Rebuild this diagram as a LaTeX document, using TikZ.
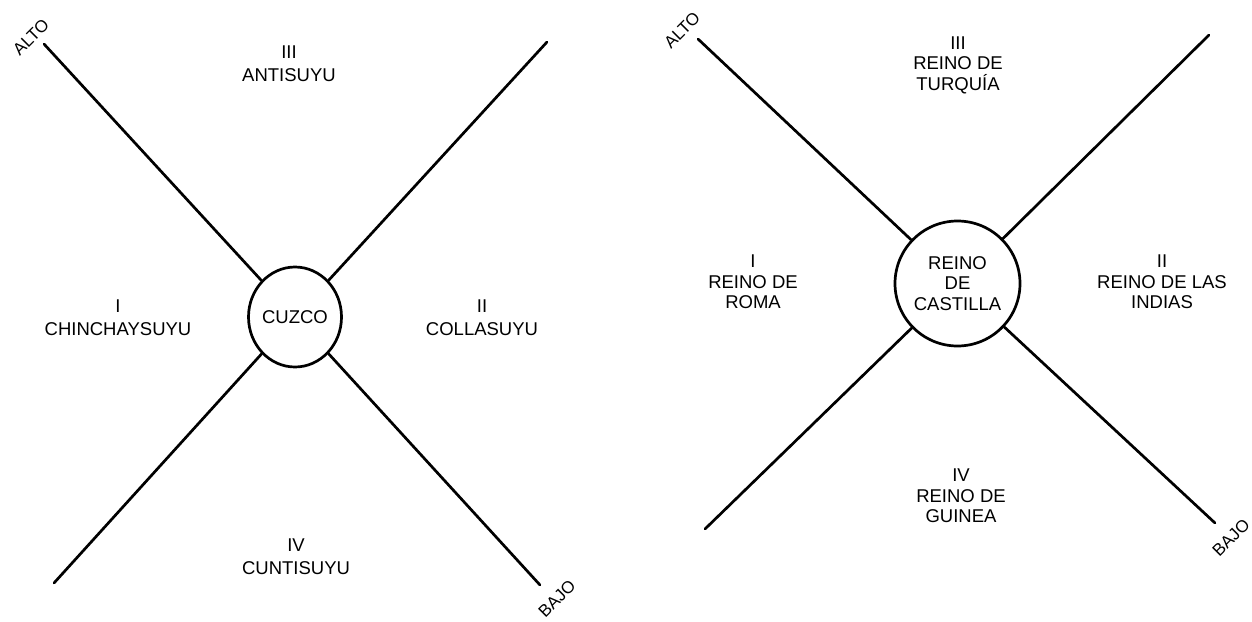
\documentclass[tikz,border=0pt]{standalone}
\usepackage{fontspec}
\setmainfont{Liberation Sans}
\usetikzlibrary{shapes.geometric}
\begin{document}
\begin{tikzpicture}[x=1pt,y=-1pt,
  spoke/.style={line width=2.7pt, line cap=round},
  hub/.style={draw, line width=2.7pt, inner sep=0pt, align=center, font=\fontsize{18.5}{20.5}\selectfont},
  lbl/.style={align=center, inner sep=0pt, font=\fontsize{18.5}{23}\selectfont},
  lblr/.style={align=center, inner sep=0pt, font=\fontsize{18.5}{20.5}\selectfont},
  dirlbl/.style={inner sep=0pt, rotate=45, font=\fontsize{17}{18}\selectfont}]
\useasboundingbox (0,0) rectangle (1252,621);
% ---- left diagram ----
\node[hub, ellipse, minimum width=90pt, minimum height=100pt] (cuzco) at (295,317) {CUZCO};
\coordinate (lul) at (44,44);
\coordinate (lur) at (547,42);
\coordinate (lll) at (54,583);
\coordinate (llr) at (540,585);
\draw[spoke] (cuzco) -- (lul);
\draw[spoke] (cuzco) -- (lur);
\draw[spoke] (cuzco) -- (lll);
\draw[spoke] (cuzco) -- (llr);
\node[dirlbl] (lalto) at (31,37) {ALTO};
\node[dirlbl] (lbajo) at (557,599) {BAJO};
\node[lbl] (anti) at (289,64) {III\\ANTISUYU};
\node[lbl] (chin) at (118,318) {I\\CHINCHAYSUYU};
\node[lbl] (colla) at (482,318) {II\\COLLASUYU};
\node[lbl] (cunti) at (296,557) {IV\\CUNTISUYU};
% ---- right diagram ----
\node[hub, circle, minimum size=125pt] (cast) at (957.5,283.5) {REINO\\DE\\CASTILLA};
\coordinate (rul) at (698,39);
\coordinate (rur) at (1209,35);
\coordinate (rll) at (705,529);
\coordinate (rlr) at (1215,523);
\draw[spoke] (cast) -- (rul);
\draw[spoke] (cast) -- (rur);
\draw[spoke] (cast) -- (rll);
\draw[spoke] (cast) -- (rlr);
\node[dirlbl] (ralto) at (682,30) {ALTO};
\node[dirlbl] (rbajo) at (1231,538) {BAJO};
\node[lblr] (turq) at (958,65) {III\\REINO DE\\TURQUÍA};
\node[lblr] (roma) at (753,282) {I\\REINO DE\\ROMA};
\node[lblr] (indias) at (1162,282) {II\\REINO DE LAS\\INDIAS};
\node[lblr] (guinea) at (961,496) {IV\\REINO DE\\GUINEA};
\end{tikzpicture}
\end{document}
